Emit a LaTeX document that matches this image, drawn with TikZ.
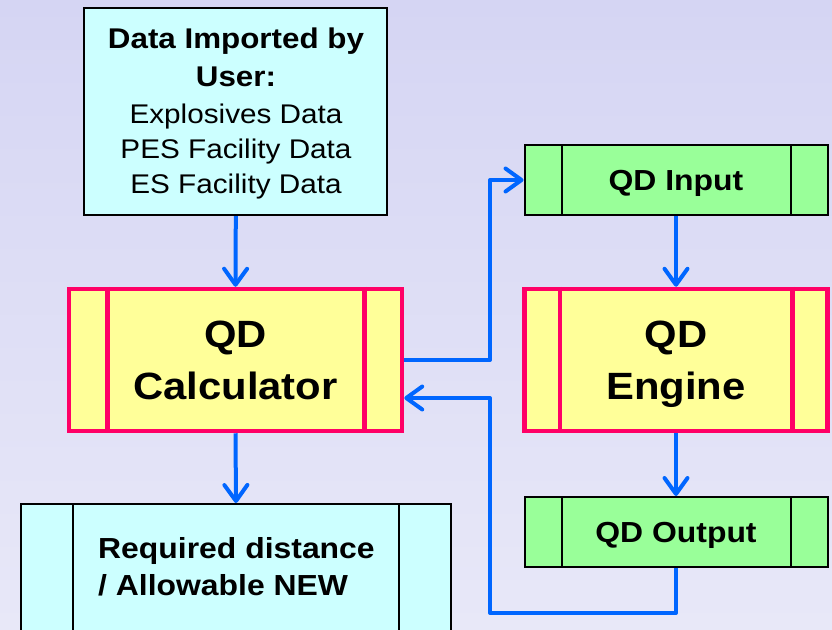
\documentclass[tikz,border=0pt]{standalone}
\usepackage{fontspec}
\newfontfamily\af[FakeStretch=1.1]{Liberation Sans}
\usetikzlibrary{arrows.meta,calc}
\definecolor{bgtop}{RGB}{213,213,243}
\definecolor{bgbot}{RGB}{232,232,248}
\definecolor{cyanfill}{RGB}{204,255,255}
\definecolor{yelfill}{RGB}{255,255,153}
\definecolor{greenfill}{RGB}{153,255,153}
\definecolor{pinkline}{RGB}{255,0,102}
\definecolor{arrblue}{RGB}{0,102,255}
\tikzset{
  cyanbox/.style={draw=black, line width=2pt, fill=cyanfill, inner sep=0pt, align=center, font=\af},
  yelbox/.style={draw=pinkline, line width=4.5pt, fill=yelfill, inner sep=0pt, align=center, text depth=0pt, font=\af\bfseries\fontsize{38}{52}\selectfont},
  greenbox/.style={draw=black, line width=2pt, fill=greenfill, inner sep=0pt, align=center, text depth=0pt, font=\af\bfseries\fontsize{29}{36}\selectfont},
  blackdiv/.style={draw=black, line width=2pt},
  pinkdiv/.style={draw=pinkline, line width=4.5pt},
  boldline/.style={anchor=base, inner sep=0pt, font=\af\bfseries\fontsize{28.5}{36}\selectfont},
  regline/.style={anchor=base, inner sep=0pt, font=\af\fontsize{27}{36}\selectfont},
  arr/.style={draw=arrblue, line width=4pt, line join=round, -{Straight Barb[length=16pt,width=23pt,round]}}
}
\begin{document}
\begin{tikzpicture}[x=1pt,y=-1pt]
\clip (0,0) rectangle (832,629);
\shade[top color=bgtop, bottom color=bgbot] (0,0) rectangle (832,629);
\useasboundingbox (0,0) rectangle (832,629);

% boxes
\node[cyanbox, minimum width=303pt, minimum height=207pt] (top) at (235.8,111.7) {};
\node[boldline] (l1) at (236,48) {Data Imported by};
\node[boldline] (l2) at (236,86) {User:};
\node[regline] (l3) at (236,123) {Explosives Data};
\node[regline] (l4) at (236,158) {PES Facility Data};
\node[regline] (l5) at (236,193) {ES Facility Data};

\node[yelbox, minimum width=333pt, minimum height=142pt] (calc) at (235.5,360) {QD\\Calculator};
\draw[pinkdiv] ([xshift=40.5pt]calc.north west) -- ([xshift=40.5pt]calc.south west);
\draw[pinkdiv] ([xshift=-40pt]calc.north east) -- ([xshift=-40pt]calc.south east);

\node[yelbox, minimum width=303pt, minimum height=142pt] (eng) at (676,360) {QD\\Engine};
\draw[pinkdiv] ([xshift=37.5pt]eng.north west) -- ([xshift=37.5pt]eng.south west);
\draw[pinkdiv] ([xshift=-37.5pt]eng.north east) -- ([xshift=-37.5pt]eng.south east);

\node[greenbox, minimum width=303pt, minimum height=70pt] (qin) at (676,180) {QD Input};
\draw[blackdiv] ([xshift=38pt]qin.north west) -- ([xshift=38pt]qin.south west);
\draw[blackdiv] ([xshift=-38pt]qin.north east) -- ([xshift=-38pt]qin.south east);

\node[greenbox, minimum width=303pt, minimum height=70pt] (qout) at (676,532) {QD Output};
\draw[blackdiv] ([xshift=38pt]qout.north west) -- ([xshift=38pt]qout.south west);
\draw[blackdiv] ([xshift=-38pt]qout.north east) -- ([xshift=-38pt]qout.south east);

\node[cyanbox, minimum width=430pt, minimum height=160pt] (req) at (236,584) {};
\draw[blackdiv] ([xshift=53pt]req.north west) -- ([xshift=53pt]req.south west);
\draw[blackdiv] ([xshift=-53pt]req.north east) -- ([xshift=-53pt]req.south east);
\node[font=\af\bfseries\fontsize{29}{37}\selectfont, align=left, inner sep=0pt, anchor=west] (reqtext) at (98,567) {Required distance\\/ Allowable NEW};

% connectors
\coordinate (j1) at (490,359);
\coordinate (j2) at (490,613);
\draw[arr] (top.south) -- (calc.north);
\draw[arr] (calc.south) -- (req.north);
\draw[arr] (qin.south) -- (eng.north);
\draw[arr] (eng.south) -- (qout.north);
\draw[arr] (calc.east) -- (calc.east -| j1) |- (qin.west);
\draw[arr] (qout.south) |- (j2) |- ([yshift=-38pt]calc.east);
\end{tikzpicture}
\end{document}
